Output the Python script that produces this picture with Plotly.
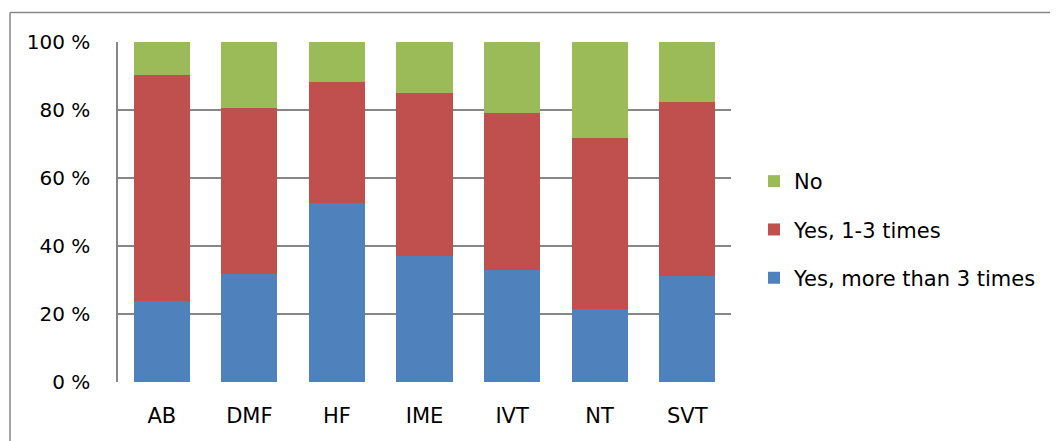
import plotly.graph_objects as go

categories = ["AB", "DMF", "HF", "IME", "IVT", "NT", "SVT"]
yes_more_than_3 = [23.8, 31.7, 52.6, 37.2, 32.9, 21.6, 31.2]
yes_1_3 = [66.6, 49.0, 35.5, 47.7, 46.3, 50.1, 51.1]
no = [9.6, 19.3, 11.9, 15.1, 20.8, 28.3, 17.7]
y_ticks = [0, 20, 40, 60, 80, 100]
y_tick_labels = ["0 %", "20 %", "40 %", "60 %", "80 %", "100 %"]

FONT = "DejaVu Sans"
FS = 20
fig = go.Figure()
series = [
    ("Yes, more than 3 times", yes_more_than_3, "#4F81BD", 3),
    ("Yes, 1-3 times", yes_1_3, "#C0504D", 2),
    ("No", no, "#9BBB59", 1),
]
for name, vals, color, rank in series:
    fig.add_trace(go.Bar(x=categories, y=vals, name=name, legendgroup=name,
                         legendrank=rank,
                         marker=dict(color=color, line=dict(width=0))))

# page body has an 8px margin; figure coordinates = screen - 8
OFF = 8
W, H = 1058 - OFF, 441 - OFF
L, R, T, B = 118 - OFF, 731 - OFF, 42 - OFF, 382 - OFF
pw, ph = R - L, B - T

border_x = 10 - OFF
border_y = 12.5 - OFF

fig.update_layout(
    width=W, height=H,
    margin=dict(l=L, r=W - R, t=T, b=H - B, pad=0),
    barmode="stack", bargap=0.36,
    plot_bgcolor="white", paper_bgcolor="white",
    font=dict(family=FONT, size=FS, color="#000000"),
    showlegend=True,
    legend=dict(traceorder="grouped", tracegroupgap=18,
                x=(754 - OFF - L) / pw, y=1 - (161 - OFF - T) / ph,
                xanchor="left", yanchor="top",
                font=dict(family=FONT, size=21), bgcolor="rgba(0,0,0,0)"),
    xaxis=dict(showgrid=False, showline=False, ticks="", tickfont=dict(size=21),
               ticklabelstandoff=19),
    yaxis=dict(range=[0, 100], tickvals=y_ticks, ticktext=y_tick_labels,
               showgrid=True, gridcolor="#868686", gridwidth=1.5,
               showline=True, linecolor="#868686", linewidth=1.5,
               zeroline=False, ticks="", ticklabelstandoff=22, tickfont=dict(size=FS)),
    shapes=[
        dict(type="line", xref="paper", yref="paper",
             x0=(border_x - L) / pw, x1=(W + 5 - L) / pw,
             y0=1 + (T - border_y) / ph, y1=1 + (T - border_y) / ph,
             line=dict(color="#868686", width=1.5)),
        dict(type="line", xref="paper", yref="paper",
             x0=(border_x - L) / pw, x1=(border_x - L) / pw,
             y0=1 + (T - border_y) / ph, y1=-(H + 5 - B) / ph,
             line=dict(color="#868686", width=1.5)),
    ],
)
fig.write_html("out.html")
